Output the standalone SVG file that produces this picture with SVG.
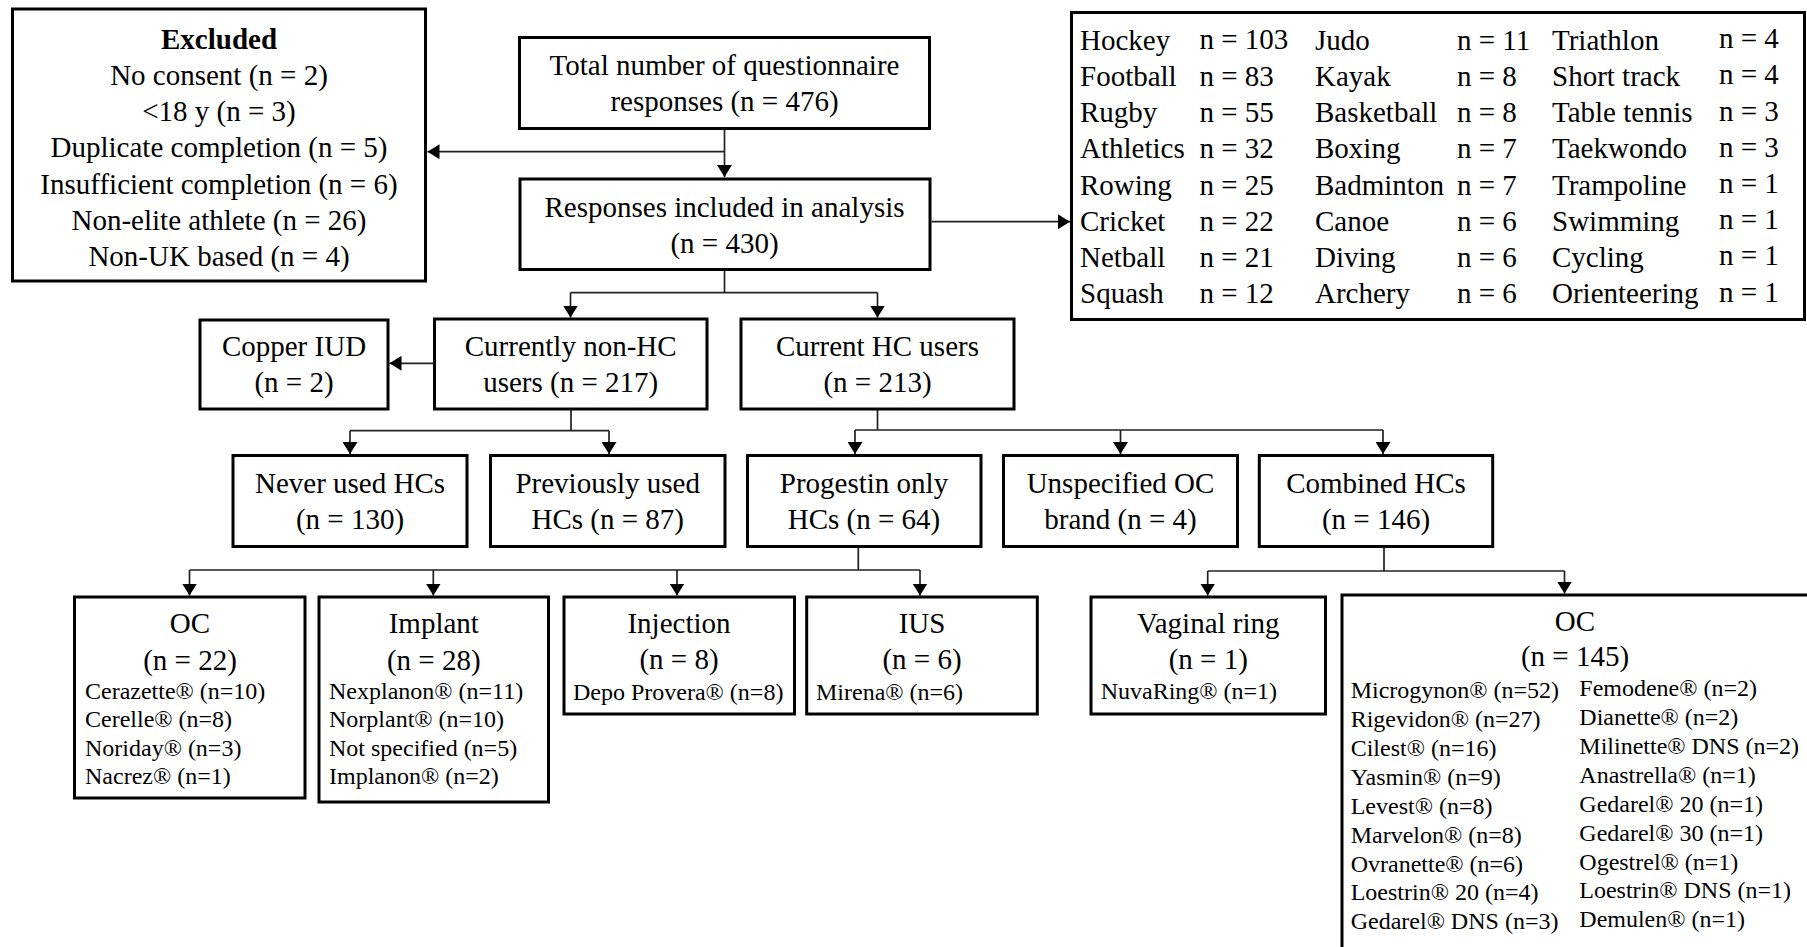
<svg xmlns="http://www.w3.org/2000/svg" width="1807" height="947" viewBox="0 0 1807 947">
<style>
.box{fill:#fff;stroke:#000;stroke-width:3}
.t{font-family:"Liberation Serif","Times New Roman",serif;font-size:29px;fill:#000}
.c{text-anchor:middle}
.b{font-weight:bold}
.s{font-size:24px}
.conn{fill:none;stroke:#222;stroke-width:1.7}
</style>
<defs>
<marker id="ah" markerUnits="userSpaceOnUse" markerWidth="13" markerHeight="15" refX="12" refY="7.5" orient="auto">
<path d="M0,0 L12,7.5 L0,15 z" fill="#000"/>
</marker>
</defs>
<rect width="1807" height="947" fill="#fff"/>

<g id="connectors">
<path class="conn" d="M724.5,129.5 V177" marker-end="url(#ah)"/>
<path class="conn" d="M724.5,151.7 H427.5" marker-end="url(#ah)"/>
<path class="conn" d="M931.5,221.7 H1070" marker-end="url(#ah)"/>
<path class="conn" d="M724.5,270 V292.7 M570.5,292.7 H877.5"/>
<path class="conn" d="M570.5,292.7 V317.5" marker-end="url(#ah)"/>
<path class="conn" d="M877.5,292.7 V317.5" marker-end="url(#ah)"/>
<path class="conn" d="M434,363.3 H389.5" marker-end="url(#ah)"/>
<path class="conn" d="M571,410 V430.7 M350,430.7 H609"/>
<path class="conn" d="M350,430.7 V454" marker-end="url(#ah)"/>
<path class="conn" d="M609,430.7 V454" marker-end="url(#ah)"/>
<path class="conn" d="M877.5,410 V430 M855,430 H1383"/>
<path class="conn" d="M855,430 V454" marker-end="url(#ah)"/>
<path class="conn" d="M1120.5,430 V454" marker-end="url(#ah)"/>
<path class="conn" d="M1383,430 V454" marker-end="url(#ah)"/>
<path class="conn" d="M858.3,547 V570 M189.5,570 H920"/>
<path class="conn" d="M189.5,570 V595.5" marker-end="url(#ah)"/>
<path class="conn" d="M433.3,570 V595.5" marker-end="url(#ah)"/>
<path class="conn" d="M677,570 V595.5" marker-end="url(#ah)"/>
<path class="conn" d="M920,570 V595.5" marker-end="url(#ah)"/>
<path class="conn" d="M1384,547 V571 M1207.7,571 H1564.5"/>
<path class="conn" d="M1207.7,571 V595.5" marker-end="url(#ah)"/>
<path class="conn" d="M1564.5,571 V593.5" marker-end="url(#ah)"/>
</g>

<g id="excluded">
<rect class="box" x="12.5" y="9" width="413" height="272"/>
<text class="t c b" x="219" y="48.5">Excluded</text>
<text class="t c" x="219" y="84.8">No consent (n = 2)</text>
<text class="t c" x="219" y="121">&lt;18 y (n = 3)</text>
<text class="t c" x="219" y="157.3">Duplicate completion (n = 5)</text>
<text class="t c" x="219" y="193.6">Insufficient completion (n = 6)</text>
<text class="t c" x="219" y="229.9">Non-elite athlete (n = 26)</text>
<text class="t c" x="219" y="266.2">Non-UK based (n = 4)</text>
</g>

<g id="total">
<rect class="box" x="519.5" y="37.5" width="410" height="91"/>
<text class="t c" x="724.5" y="75">Total number of questionnaire</text>
<text class="t c" x="724.5" y="111">responses (n = 476)</text>
</g>

<g id="included">
<rect class="box" x="520" y="179" width="410" height="90.5"/>
<text class="t c" x="724.5" y="216.7">Responses included in analysis</text>
<text class="t c" x="724.5" y="252.7">(n = 430)</text>
</g>

<g id="sports">
<rect class="box" x="1071.5" y="12.5" width="733" height="307"/>
<text class="t" x="1080" y="49.7">Hockey</text><text class="t" x="1199.5" y="49">n = 103</text>
<text class="t" x="1080" y="85.9">Football</text><text class="t" x="1199.5" y="85.9">n = 83</text>
<text class="t" x="1080" y="122.1">Rugby</text><text class="t" x="1199.5" y="122.1">n = 55</text>
<text class="t" x="1080" y="158.3">Athletics</text><text class="t" x="1199.5" y="158.3">n = 32</text>
<text class="t" x="1080" y="194.5">Rowing</text><text class="t" x="1199.5" y="194.5">n = 25</text>
<text class="t" x="1080" y="230.7">Cricket</text><text class="t" x="1199.5" y="230.7">n = 22</text>
<text class="t" x="1080" y="266.9">Netball</text><text class="t" x="1199.5" y="266.9">n = 21</text>
<text class="t" x="1080" y="303.1">Squash</text><text class="t" x="1199.5" y="303.1">n = 12</text>
<text class="t" x="1315" y="49.7">Judo</text><text class="t" x="1457" y="49.7">n = 11</text>
<text class="t" x="1315" y="85.9">Kayak</text><text class="t" x="1457" y="85.9">n = 8</text>
<text class="t" x="1315" y="122.1">Basketball</text><text class="t" x="1457" y="122.1">n = 8</text>
<text class="t" x="1315" y="158.3">Boxing</text><text class="t" x="1457" y="158.3">n = 7</text>
<text class="t" x="1315" y="194.5">Badminton</text><text class="t" x="1457" y="194.5">n = 7</text>
<text class="t" x="1315" y="230.7">Canoe</text><text class="t" x="1457" y="230.7">n = 6</text>
<text class="t" x="1315" y="266.9">Diving</text><text class="t" x="1457" y="266.9">n = 6</text>
<text class="t" x="1315" y="303.1">Archery</text><text class="t" x="1457" y="303.1">n = 6</text>
<text class="t" x="1552" y="49.7">Triathlon</text><text class="t" x="1719" y="48.2">n = 4</text>
<text class="t" x="1552" y="85.9">Short track</text><text class="t" x="1719" y="84.4">n = 4</text>
<text class="t" x="1552" y="122.1">Table tennis</text><text class="t" x="1719" y="120.6">n = 3</text>
<text class="t" x="1552" y="158.3">Taekwondo</text><text class="t" x="1719" y="156.8">n = 3</text>
<text class="t" x="1552" y="194.5">Trampoline</text><text class="t" x="1719" y="193">n = 1</text>
<text class="t" x="1552" y="230.7">Swimming</text><text class="t" x="1719" y="229.2">n = 1</text>
<text class="t" x="1552" y="266.9">Cycling</text><text class="t" x="1719" y="265.4">n = 1</text>
<text class="t" x="1552" y="303.1">Orienteering</text><text class="t" x="1719" y="301.6">n = 1</text>
</g>

<g id="copper">
<rect class="box" x="200" y="320" width="188" height="89"/>
<text class="t c" x="294" y="356">Copper IUD</text>
<text class="t c" x="294" y="391.7">(n = 2)</text>
</g>

<g id="nonhc">
<rect class="box" x="434.5" y="319" width="272.5" height="90"/>
<text class="t c" x="570.7" y="356">Currently non-HC</text>
<text class="t c" x="570.7" y="391.7">users (n = 217)</text>
</g>

<g id="currenthc">
<rect class="box" x="741" y="319" width="273" height="90"/>
<text class="t c" x="877.5" y="356">Current HC users</text>
<text class="t c" x="877.5" y="391.7">(n = 213)</text>
</g>

<g id="never">
<rect class="box" x="233" y="455.5" width="234" height="91"/>
<text class="t c" x="350" y="493">Never used HCs</text>
<text class="t c" x="350" y="529">(n = 130)</text>
</g>

<g id="previous">
<rect class="box" x="490.5" y="455.5" width="234.5" height="91"/>
<text class="t c" x="607.7" y="493">Previously used</text>
<text class="t c" x="607.7" y="529">HCs (n = 87)</text>
</g>

<g id="progestin">
<rect class="box" x="747.5" y="455.5" width="233.5" height="91"/>
<text class="t c" x="864" y="493">Progestin only</text>
<text class="t c" x="864" y="529">HCs (n = 64)</text>
</g>

<g id="unspecified">
<rect class="box" x="1003.5" y="455.5" width="234" height="91"/>
<text class="t c" x="1120.5" y="493">Unspecified OC</text>
<text class="t c" x="1120.5" y="529">brand (n = 4)</text>
</g>

<g id="combined">
<rect class="box" x="1259.3" y="455.5" width="233.4" height="91"/>
<text class="t c" x="1376" y="493">Combined HCs</text>
<text class="t c" x="1376" y="529">(n = 146)</text>
</g>

<g id="oc-po">
<rect class="box" x="74.5" y="597" width="230.5" height="201"/>
<text class="t c" x="190" y="633">OC</text>
<text class="t c" x="190" y="670">(n = 22)</text>
<text class="t s" x="85" y="698.5">Cerazette® (n=10)</text>
<text class="t s" x="85" y="727">Cerelle® (n=8)</text>
<text class="t s" x="85" y="755.7">Noriday® (n=3)</text>
<text class="t s" x="85" y="784.3">Nacrez® (n=1)</text>
</g>

<g id="implant">
<rect class="box" x="319" y="597" width="229.5" height="205"/>
<text class="t c" x="433.8" y="633">Implant</text>
<text class="t c" x="433.8" y="670">(n = 28)</text>
<text class="t s" x="329" y="698.5">Nexplanon® (n=11)</text>
<text class="t s" x="329" y="727">Norplant® (n=10)</text>
<text class="t s" x="329" y="755.7">Not specified (n=5)</text>
<text class="t s" x="329" y="784.3">Implanon® (n=2)</text>
</g>

<g id="injection">
<rect class="box" x="564" y="597" width="230.5" height="117"/>
<text class="t c" x="679" y="632.7">Injection</text>
<text class="t c" x="679" y="669.3">(n = 8)</text>
<text class="t s" x="573" y="699.5">Depo Provera® (n=8)</text>
</g>

<g id="ius">
<rect class="box" x="806.7" y="597" width="230.6" height="117"/>
<text class="t c" x="922" y="632.7">IUS</text>
<text class="t c" x="922" y="669.3">(n = 6)</text>
<text class="t s" x="816" y="699.5">Mirena® (n=6)</text>
</g>

<g id="vaginal">
<rect class="box" x="1091" y="597" width="234.5" height="117"/>
<text class="t c" x="1208.3" y="632.7">Vaginal ring</text>
<text class="t c" x="1208.3" y="669.3">(n = 1)</text>
<text class="t s" x="1100.7" y="699">NuvaRing® (n=1)</text>
</g>

<g id="oc-combined">
<rect class="box" x="1342" y="595" width="500" height="400"/>
<text class="t c" x="1575" y="630.7">OC</text>
<text class="t c" x="1575" y="666">(n = 145)</text>
<text class="t s" x="1350.7" y="698.4">Microgynon® (n=52)</text>
<text class="t s" x="1350.7" y="727.2">Rigevidon® (n=27)</text>
<text class="t s" x="1350.7" y="756.1">Cilest® (n=16)</text>
<text class="t s" x="1350.7" y="784.9">Yasmin® (n=9)</text>
<text class="t s" x="1350.7" y="813.8">Levest® (n=8)</text>
<text class="t s" x="1350.7" y="842.6">Marvelon® (n=8)</text>
<text class="t s" x="1350.7" y="871.5">Ovranette® (n=6)</text>
<text class="t s" x="1350.7" y="900.3">Loestrin® 20 (n=4)</text>
<text class="t s" x="1350.7" y="929.2">Gedarel® DNS (n=3)</text>
<text class="t s" x="1579.3" y="696.4">Femodene® (n=2)</text>
<text class="t s" x="1579.3" y="725.2">Dianette® (n=2)</text>
<text class="t s" x="1579.3" y="754.1">Milinette® DNS (n=2)</text>
<text class="t s" x="1579.3" y="782.9">Anastrella® (n=1)</text>
<text class="t s" x="1579.3" y="811.8">Gedarel® 20 (n=1)</text>
<text class="t s" x="1579.3" y="840.6">Gedarel® 30 (n=1)</text>
<text class="t s" x="1579.3" y="869.5">Ogestrel® (n=1)</text>
<text class="t s" x="1579.3" y="898.3">Loestrin® DNS (n=1)</text>
<text class="t s" x="1579.3" y="927.2">Demulen® (n=1)</text>
</g>
</svg>
